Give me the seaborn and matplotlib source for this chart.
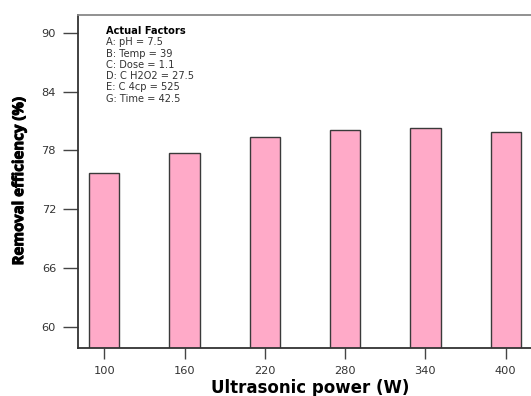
import matplotlib
matplotlib.use("Agg")
import matplotlib.pyplot as plt
import matplotlib.patheffects as pe
import seaborn as sns
import pandas as pd

# Removal efficiency at each ultrasonic power level
power = [100, 160, 220, 280, 340, 400]
removal = [75.7, 77.7, 79.35, 80.05, 80.3, 79.85]
y_ticks = [60, 66, 72, 78, 84, 90]
factor_title = "Actual Factors"
factor_lines = ["A: pH = 7.5", "B: Temp = 39", "C: Dose = 1.1",
                "D: C H2O2 = 27.5", "E: C 4cp = 525", "G: Time = 42.5"]

df = pd.DataFrame({"power": power, "removal": removal})

sns.set_style("white")
plt.rcParams["font.family"] = ["DejaVu Sans"]

W, H = 531, 396
fig = plt.figure(figsize=(W / 100, H / 100), dpi=100)
ax = fig.add_axes([78.3 / W, 1 - 347.7 / H, (540 - 78.3) / W, (347.7 - 15) / H])

sns.barplot(data=df, x="power", y="removal", native_scale=True, width=0.377,
            color="#FFAAC8", saturation=1, edgecolor="#3a3a3a", linewidth=1.0,
            ax=ax)

ax.set_xlim(80.6, 425.6)
ax.set_ylim(57.86, 91.83)
ax.set_xticks(power)
ax.set_yticks(y_ticks)
ax.set_xticklabels([str(p) for p in power])

ax.tick_params(axis="x", direction="out", length=8, width=1, color="#444444",
               labelsize=8.2, labelcolor="#333333", pad=5, bottom=True)
ax.tick_params(axis="y", direction="out", length=11, width=1, color="#444444",
               labelsize=8.2, labelcolor="#333333", pad=5, left=True)

for side in ("left", "bottom"):
    ax.spines[side].set_color("#333333")
    ax.spines[side].set_linewidth(1.3)
ax.spines["top"].set_color("#888888")
ax.spines["top"].set_linewidth(1.3)
ax.spines["right"].set_visible(False)

ax.set_xlabel("Ultrasonic power (W)", fontsize=12, fontweight="bold",
              color="black")
ax.xaxis.set_label_coords(0.502, -0.093)
ylab = ax.set_ylabel("Removal efficiency (%)", fontsize=10.8, fontweight="bold",
                     color="black", family=["Open Sans", "DejaVu Sans"])
ylab.set_path_effects([pe.withStroke(linewidth=0.7, foreground="black")])
ax.yaxis.set_label_coords(-0.113, 0.5)

x0 = 106 / W
y0 = 31
step = 11.3
fig.text(x0, 1 - y0 / H, factor_title, fontsize=7.1, fontweight="bold",
         color="black", va="center", ha="left")
for i, line in enumerate(factor_lines):
    fig.text(x0, 1 - (y0 + step * (i + 1)) / H, line, fontsize=7.1,
             color="#333333", va="center", ha="left")

fig.savefig("out.png", dpi=100)
